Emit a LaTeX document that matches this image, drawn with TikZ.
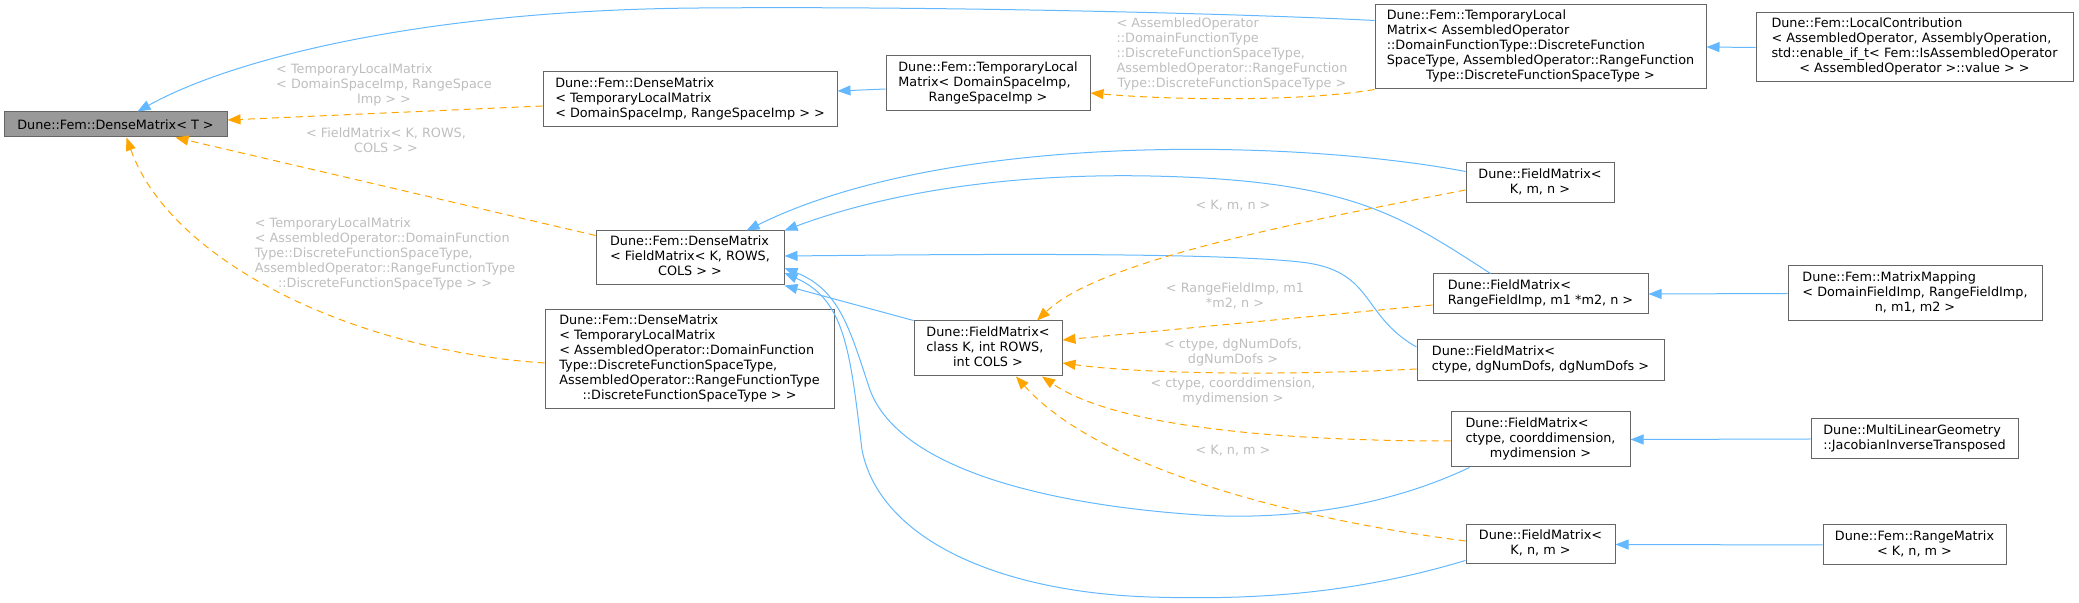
\documentclass[tikz,border=0pt]{standalone}
\usepackage{fontspec}
\setmainfont{DejaVu Sans}
\usetikzlibrary{arrows.meta,calc}
\definecolor{inherit}{HTML}{63B8FF}
\definecolor{templ}{HTML}{FFA500}
\definecolor{boxline}{HTML}{666666}
\definecolor{basefill}{HTML}{999999}
\definecolor{lblgray}{HTML}{BEBEBE}
\newcommand{\lns}[1]{\begin{tabular}{@{}l@{}}#1\end{tabular}}
\newcommand{\ctr}[1]{\multicolumn{1}{@{}c@{}}{#1}}

\begin{document}
\begin{tikzpicture}[x=0.5pt, y=-0.5pt,
   cls/.style={draw=boxline, line width=0.5pt, fill=white, inner sep=0pt,
      font=\fontsize{6.4}{7.5}\selectfont},
   lbl/.style={text=lblgray, inner sep=0pt, font=\fontsize{6.4}{7.5}\selectfont},
   pub/.style={draw=inherit, line width=0.5pt, -{Triangle[length=6.5pt,width=5pt]}},
   tpl/.style={draw=templ, line width=0.5pt, dash pattern=on 3.5pt off 2.5pt,
      -{Triangle[length=6.5pt,width=5pt]}}]
   \useasboundingbox (0,0) rectangle (2079,603);

   \node[cls, fill=basefill, minimum width=111.5pt, minimum height=12.5pt] (n0) at (115.5,124.5)
      {Dune::Fem::DenseMatrix< T >};
   \foreach \n/\x/\y/\w/\h/\t in
     {n1/690/99.5/294/55/{\lns{Dune::Fem::DenseMatrix\\ < TemporaryLocalMatrix\\ \ctr{< DomainSpaceImp, RangeSpaceImp > >}}},
      n2/988/83.5/204/55/{\lns{Dune::Fem::TemporaryLocal\\ Matrix< DomainSpaceImp,\\ \ctr{RangeSpaceImp >}}},
      n3/1540.5/47/331/84/{\lns{Dune::Fem::TemporaryLocal\\ Matrix< AssembledOperator\\ ::DomainFunctionType::DiscreteFunction\\ SpaceType, AssembledOperator::RangeFunction\\ \ctr{Type::DiscreteFunctionSpaceType >}}},
      n4/1914.5/47.5/317/69/{\lns{Dune::Fem::LocalContribution\\ < AssembledOperator, AssemblyOperation,\\ std::enable\_if\_t< Fem::IsAssembledOperator\\ \ctr{< AssembledOperator >::value > >}}},
      n5/690/258/188/54/{\lns{Dune::Fem::DenseMatrix\\ < FieldMatrix< K, ROWS,\\ \ctr{COLS > >}}},
      n6/689.5/359.5/289/99/{\lns{Dune::Fem::DenseMatrix\\ < TemporaryLocalMatrix\\ < AssembledOperator::DomainFunction\\ Type::DiscreteFunctionSpaceType,\\ AssembledOperator::RangeFunctionType\\ \ctr{::DiscreteFunctionSpaceType > >}}},
      n7/988/348.5/148/55/{\lns{Dune::FieldMatrix<\\ class K, int ROWS,\\ \ctr{int COLS >}}},
      n8/1540/183/148/40/{\lns{Dune::FieldMatrix<\\ \ctr{K, m, n >}}},
      n9/1540.5/294/215/40/{\lns{Dune::FieldMatrix<\\ \ctr{RangeFieldImp, m1 *m2, n >}}},
      n10/1540.5/360.5/247/41/{\lns{Dune::FieldMatrix<\\ \ctr{ctype, dgNumDofs, dgNumDofs >}}},
      n11/1540.5/439.5/179/55/{\lns{Dune::FieldMatrix<\\ ctype, coorddimension,\\ \ctr{mydimension >}}},
      n12/1540.5/544.5/149/39/{\lns{Dune::FieldMatrix<\\ \ctr{K, n, m >}}},
      n13/1915/293.5/254/55/{\lns{Dune::Fem::MatrixMapping\\ < DomainFieldImp, RangeFieldImp,\\ \ctr{n, m1, m2 >}}},
      n14/1914.5/439/207/40/{\lns{Dune::MultiLinearGeometry\\ \ctr{::JacobianInverseTransposed}}},
      n15/1914.5/545/183/40/{\lns{Dune::Fem::RangeMatrix\\ \ctr{< K, n, m >}}}
     }
     \node[cls, minimum width=\w*0.5pt, minimum height=\h*0.5pt] (\n) at (\x,\y) {\t};

   \foreach \n/\x/\y/\t in
     {la/384/85.5/{\lns{< TemporaryLocalMatrix\\ < DomainSpaceImp, RangeSpace\\ \ctr{Imp > >}}},
      lb/386/142.5/{\lns{< FieldMatrix< K, ROWS,\\ \ctr{COLS > >}}},
      lc/385/255/{\lns{< TemporaryLocalMatrix\\ < AssembledOperator::DomainFunction\\ Type::DiscreteFunctionSpaceType,\\ AssembledOperator::RangeFunctionType\\ \ctr{::DiscreteFunctionSpaceType > >}}},
      ld/1232/55/{\lns{< AssembledOperator\\ ::DomainFunctionType\\ ::DiscreteFunctionSpaceType,\\ AssembledOperator::RangeFunction\\ \ctr{Type::DiscreteFunctionSpaceType >}}},
      le/1233/206/{< K, m, n >},
      lf/1235/297/{\lns{< RangeFieldImp, m1\\ \ctr{*m2, n >}}},
      lg/1233/353/{\lns{< ctype, dgNumDofs,\\ \ctr{dgNumDofs >}}},
      lh/1233/392/{\lns{< ctype, coorddimension,\\ \ctr{mydimension >}}},
      li/1233/451/{< K, n, m >}
     }
     \node[lbl] (\n) at (\x,\y) {\t};

   \foreach \a/\b in {n4/n3, n13/n9, n14/n11, n15/n12}
     \draw[pub] (\a.west) -- (\b.east);
   \draw[pub] ($(n3.north west)+(0,16)$) .. controls (1250,14) and (950,6) .. (700,8)
      .. controls (420,10) and (230,60) .. ($(n0.north west)+(134,0)$);
   \draw[pub] ($(n2.west)+(0,5.5)$) -- ($(n1.east)+(0,-8.5)$);
   \draw[pub] ($(n8.north west)+(0,9)$) .. controls (1300,140) and (950,130) .. ($(n5.north west)+(151,0)$);
   \draw[pub] ($(n9.north west)+(58,0)$) .. controls (1400,215) and (1350,180) .. (1150,176)
      .. controls (1000,173) and (880,195) .. (n5.north east);
   \draw[pub] ($(n10.west)+(0,-13.5)$) .. controls (1360,315) and (1375,270) .. (1300,262)
      .. controls (1200,251) and (900,255) .. ($(n5.east)+(0,-2)$);
   \draw[pub] (n7.north west) -- (n5.south east);
   \draw[pub] ($(n11.south west)+(19,0)$) .. controls (1380,510) and (1280,520) .. (1200,515)
      .. controls (1050,505) and (900,470) .. (870,390)
      .. controls (850,330) and (840,290) .. ($(n5.east)+(0,10)$);
   \draw[pub] ($(n12.south west)+(0,-4)$) .. controls (1350,595) and (1250,600) .. (1150,597)
      .. controls (1000,592) and (880,540) .. (862,450)
      .. controls (850,350) and (845,300) .. ($(n5.east)+(0,15)$);

   \draw[tpl] ($(n1.west)+(0,6.5)$) -- ($(n0.east)+(0,-4.5)$);
   \draw[tpl] ($(n5.north west)+(0,5)$) -- ($(n0.south east)+(-52,0)$);
   \draw[tpl] ($(n6.west)+(0,3.5)$) .. controls (350,350) and (170,260) .. ($(n0.south west)+(123,0)$);
   \draw[tpl] (n3.south west) .. controls (1300,102) and (1170,100) .. ($(n2.east)+(0,9.5)$);
   \draw[tpl] ($(n8.west)+(0,7)$) .. controls (1300,222) and (1100,260) .. ($(n7.north)+(49,0)$);
   \draw[tpl] ($(n9.west)+(0,11)$) -- ($(n7.east)+(0,-8.5)$);
   \draw[tpl] ($(n10.west)+(0,8.5)$) .. controls (1300,375) and (1150,375) .. ($(n7.east)+(0,14.5)$);
   \draw[tpl] ($(n11.west)+(0,1.5)$) .. controls (1300,441) and (1120,430) .. ($(n7.south)+(54,0)$);
   \draw[tpl] ($(n12.west)+(0,-3.5)$) .. controls (1300,520) and (1100,470) .. ($(n7.south)+(28,0)$);
\end{tikzpicture}
\end{document}
